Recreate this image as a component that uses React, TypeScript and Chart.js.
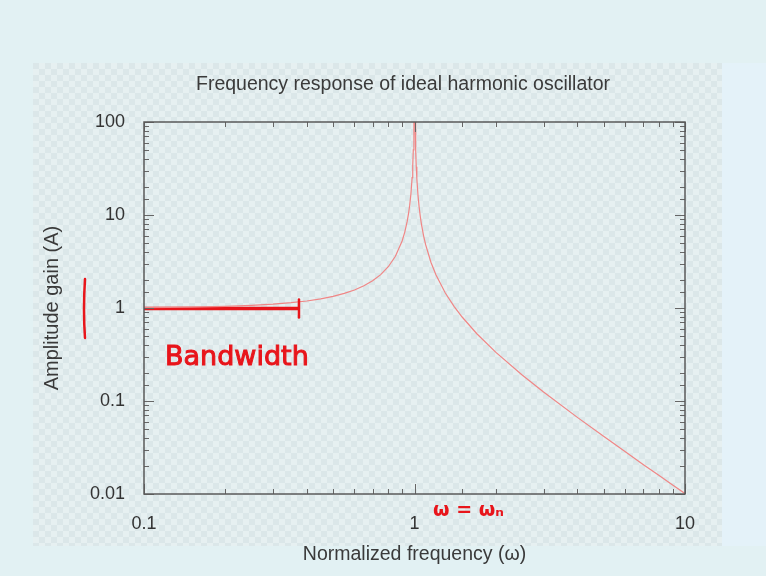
import React, { useEffect, useRef } from 'react';
import { Chart, registerables } from 'chart.js';

Chart.register(...registerables);

// ---- data ----
const omega = [
  0.1, 0.15, 0.2, 0.25, 0.3, 0.35, 0.4, 0.45, 0.5, 0.55, 0.6, 0.65, 0.7, 0.75, 0.8, 0.85,
  0.9, 0.92, 0.94, 0.95, 0.96, 0.97, 0.98, 0.985, 0.99, 0.995, 1.0, 1.005, 1.01, 1.015,
  1.02, 1.03, 1.04, 1.05, 1.06, 1.08, 1.1, 1.15, 1.2, 1.3, 1.4, 1.5, 1.7, 2, 2.5, 3, 4,
  5, 6, 7, 8, 9, 10,
];
const amplitude = [
  1.01, 1.023, 1.042, 1.067, 1.099, 1.14, 1.19, 1.254, 1.333, 1.434, 1.563, 1.732, 1.961,
  2.286, 2.778, 3.604, 5.263, 6.51, 8.59, 10.26, 12.76, 16.92, 25.25, 33.59, 50.25, 100,
  100, 99.75, 49.75, 33.08, 24.75, 16.42, 12.25, 9.756, 8.091, 6.01, 4.762, 3.101, 2.273,
  1.449, 1.042, 0.8, 0.529, 0.333, 0.19, 0.125, 0.0667, 0.0417, 0.0286, 0.0208, 0.0159,
  0.0125, 0.0101,
];
const bandwidthX = [0.1, 0.374];
const bandwidthY = [0.985, 0.985];
const xTickValues = [0.1, 1, 10];
const xTickLabels = ['0.1', '1', '10'];
const yTickValues = [0.01, 0.1, 1, 10, 100];
const yTickLabels = ['0.01', '0.1', '1', '10', '100'];
const titleText = 'Frequency response of ideal harmonic oscillator';
const xTitle = 'Normalized frequency (ω)';
const yTitle = 'Amplitude gain (A)';
const noteBandwidth = 'Bandwidth';
const noteOmega = 'ω = ωₙ';

const W = 766;
const H = 576;
const FONT = '"Liberation Sans", Arial, sans-serif';

function labelFor(v: number, vals: number[], labels: string[]) {
  for (let i = 0; i < vals.length; i++) {
    if (Math.abs(Math.log10(v) - Math.log10(vals[i])) < 1e-6) return labels[i];
  }
  return '';
}

const backgroundPlugin = {
  id: 'bgPlugin',
  beforeDraw(chart: any) {
    const ctx = chart.ctx;
    ctx.save();
    ctx.fillStyle = '#e2f1f3';
    ctx.fillRect(0, 0, W, H);
    // checkered picture region
    const x0 = 33, y0 = 63, x1 = 722, y1 = 546, s = 6;
    ctx.fillStyle = '#e6f0f1';
    ctx.fillRect(x0, y0, x1 - x0, y1 - y0);
    ctx.fillStyle = '#dbe7e9';
    for (let y = y0, r = 0; y < y1; y += s, r++) {
      for (let x = x0 + ((r % 2) * s); x < x1; x += 2 * s) {
        ctx.fillRect(x, y, Math.min(s, x1 - x), Math.min(s, y1 - y));
      }
    }
    ctx.fillStyle = '#e4f2f9';
    ctx.fillRect(x1, y0, W - x1, y1 - y0);
    // title
    ctx.fillStyle = '#3a3a3a';
    ctx.font = `19.5px ${FONT}`;
    ctx.textAlign = 'center';
    ctx.textBaseline = 'middle';
    ctx.fillText(titleText, 403, 85);
    ctx.restore();
  },
};

const frameTicksPlugin = {
  id: 'frameTicks',
  afterDatasetsDraw(chart: any) {
    const ctx = chart.ctx;
    const { left, right, top, bottom } = chart.chartArea;
    const xs = chart.scales.x;
    const ys = chart.scales.y;
    ctx.save();
    ctx.strokeStyle = '#666';
    ctx.lineWidth = 1;
    const isMajor = (v: number) => Math.abs(Math.log10(v) - Math.round(Math.log10(v))) < 1e-6;
    ctx.beginPath();
    xs.ticks.forEach((t: any) => {
      const p = Math.round(xs.getPixelForValue(t.value)) + 0.5;
      const len = isMajor(t.value) ? 10 : 5;
      ctx.moveTo(p, bottom);
      ctx.lineTo(p, bottom - len);
      ctx.moveTo(p, top);
      ctx.lineTo(p, top + len);
    });
    ys.ticks.forEach((t: any) => {
      const p = Math.round(ys.getPixelForValue(t.value)) + 0.5;
      const len = isMajor(t.value) ? 10 : 5;
      ctx.moveTo(left, p);
      ctx.lineTo(left + len, p);
      ctx.moveTo(right, p);
      ctx.lineTo(right - len, p);
    });
    ctx.stroke();
    ctx.strokeStyle = '#5a5a5a';
    ctx.lineWidth = 1.5;
    ctx.strokeRect(Math.round(left), Math.round(top), Math.round(right - left), Math.round(bottom - top));
    ctx.restore();
  },
  afterDraw(chart: any) {
    const ctx = chart.ctx;
    const xs = chart.scales.x;
    const ys = chart.scales.y;
    ctx.save();
    ctx.strokeStyle = '#e8151b';
    ctx.lineCap = 'round';
    // left handwritten bar
    ctx.lineWidth = 2.5;
    ctx.beginPath();
    ctx.moveTo(85, 279);
    ctx.quadraticCurveTo(83, 310, 85, 338);
    ctx.stroke();
    // end tick of bandwidth line
    const ex = xs.getPixelForValue(bandwidthX[1]);
    const ey = ys.getPixelForValue(bandwidthY[1]);
    ctx.lineWidth = 2.5;
    ctx.beginPath();
    ctx.moveTo(ex, ey - 9);
    ctx.lineTo(ex, ey + 9);
    ctx.stroke();
    // handwritten notes
    ctx.fillStyle = '#e8151b';
    ctx.textAlign = 'left';
    ctx.textBaseline = 'middle';
    ctx.font = `27px "DejaVu Sans", sans-serif`;
    ctx.lineWidth = 1;
    ctx.fillText(noteBandwidth, 165, 358);
    ctx.strokeText(noteBandwidth, 165, 358);
    ctx.font = `bold 19px "DejaVu Sans", sans-serif`;
    ctx.fillText(noteOmega, 433, 511);
    ctx.restore();
  },
};

export default function App() {
  const ref = useRef<HTMLCanvasElement | null>(null);
  useEffect(() => {
    document.body.style.margin = '0';
    const canvas = ref.current;
    if (!canvas) return;
    const curve = omega.map((x, i) => ({ x, y: amplitude[i] }));
    const band = bandwidthX.map((x, i) => ({ x, y: bandwidthY[i] }));
    const chart = new Chart(canvas, {
      type: 'line',
      data: {
        datasets: [
          {
            data: curve,
            borderColor: '#f08686',
            borderWidth: 1.2,
            pointRadius: 0,
            tension: 0,
            fill: false,
          },
          {
            data: band,
            borderColor: '#e8151b',
            borderWidth: 3.5,
            pointRadius: 0,
            tension: 0,
            fill: false,
            clip: 10,
          } as any,
        ],
      },
      options: {
        animation: false,
        responsive: false,
        devicePixelRatio: 1,
        parsing: false as any,
        layout: { padding: { top: 122, right: 81, left: 0, bottom: 0 } },
        plugins: {
          legend: { display: false },
          title: { display: false },
          tooltip: { enabled: false },
        },
        scales: {
          x: {
            type: 'logarithmic',
            min: 0.1,
            max: 10,
            grid: { display: false, drawTicks: false },
            border: { display: false },
            ticks: {
              autoSkip: false,
              maxRotation: 0,
              padding: 19,
              color: '#333',
              font: { size: 18, family: FONT },
              callback: (v: any) => labelFor(Number(v), xTickValues, xTickLabels),
            },
            title: {
              display: true,
              text: xTitle,
              color: '#3a3a3a',
              font: { size: 19.5, family: FONT },
              padding: { top: 0, bottom: 10 },
            },
            afterFit: (s: any) => {
              s.height = H - 494;
            },
          },
          y: {
            type: 'logarithmic',
            min: 0.01,
            max: 100,
            grid: { display: false, drawTicks: false },
            border: { display: false },
            ticks: {
              autoSkip: false,
              padding: 19,
              color: '#333',
              font: { size: 18, family: FONT },
              callback: (v: any) => labelFor(Number(v), yTickValues, yTickLabels),
            },
            title: {
              display: true,
              text: yTitle,
              color: '#3a3a3a',
              font: { size: 20, family: FONT },
              padding: { top: 40, bottom: 0 },
            },
            afterFit: (s: any) => {
              s.width = 144;
            },
          },
        } as any,
      },
      plugins: [backgroundPlugin, frameTicksPlugin],
    });
    return () => chart.destroy();
  }, []);
  return (
    <div style={{ position: 'absolute', left: 0, top: 0, width: W, height: H }}>
      <canvas ref={ref} width={W} height={H} style={{ width: W, height: H, display: 'block' }} />
    </div>
  );
}
